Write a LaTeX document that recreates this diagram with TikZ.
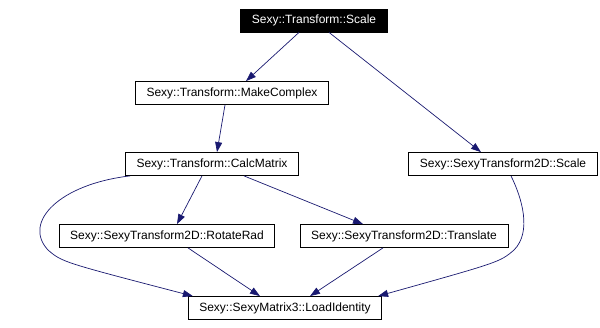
\documentclass[tikz,border=0pt]{standalone}
\usepackage{fontspec}
\setmainfont{Liberation Sans}
\usetikzlibrary{arrows.meta}
\definecolor{callcol}{HTML}{191970}
\tikzset{
  fn/.style={draw=black,line width=0.8pt,fill=white,inner xsep=11pt,inner ysep=0pt,
    minimum height=23pt,font=\fontsize{12}{14}\selectfont},
  here/.style={fn,fill=black,text=white},
  call/.style={draw=callcol,line width=0.7pt,-{Triangle[length=10pt,width=7pt]}}
}
\begin{document}
\begin{tikzpicture}[x=1pt,y=-1pt]
                \useasboundingbox (0,0) rectangle (600,327);
                %% top of the graph
                \node[here] (scale) at (314,20.5) {Sexy::Transform::Scale};
                %% second row
                \node[fn] (makecomplex) at (232,93) {Sexy::Transform::MakeComplex};
                %% third row
                \node[fn] (calcmatrix) at (212,164) {Sexy::Transform::CalcMatrix};
                \node[fn] (scaletwod) at (503,164) {Sexy::SexyTransform2D::Scale};
                %% fourth row
                \node[fn] (rotaterad) at (167,236) {Sexy::SexyTransform2D::RotateRad};
                \node[fn] (translate) at (404,236) {Sexy::SexyTransform2D::Translate};
                %% bottom
                \node[fn] (loadidentity) at (285,308) {Sexy::SexyMatrix3::LoadIdentity};
                %% calls
                \draw[call] ([xshift=-15pt]scale.south) -- ([xshift=14pt]makecomplex.north);
                \draw[call] ([xshift=15pt]scale.south) -- ([xshift=-22pt]scaletwod.north);
                \draw[call] ([xshift=-7pt]makecomplex.south) -- ([xshift=5pt]calcmatrix.north);
                \draw[call] ([xshift=-10pt]calcmatrix.south) -- ([xshift=10pt]rotaterad.north);
                \draw[call] ([xshift=32pt]calcmatrix.south) -- ([xshift=-41pt]translate.north);
                \draw[call] ([xshift=5pt]calcmatrix.south west) .. controls (60,184) and (22,222) .. (48,250)
                    .. controls (62,262) .. ([xshift=5pt]loadidentity.north west);
                \draw[call] ([xshift=21pt]rotaterad.south) -- ([xshift=-25pt]loadidentity.north);
                \draw[call] ([xshift=-21pt]translate.south) -- ([xshift=25pt]loadidentity.north);
                \draw[call] ([xshift=8pt]scaletwod.south) .. controls (522,198) and (532,232) .. (514,250)
                    .. controls (500,262) .. ([xshift=-4pt]loadidentity.north east);
            \end{tikzpicture}
\end{document}
